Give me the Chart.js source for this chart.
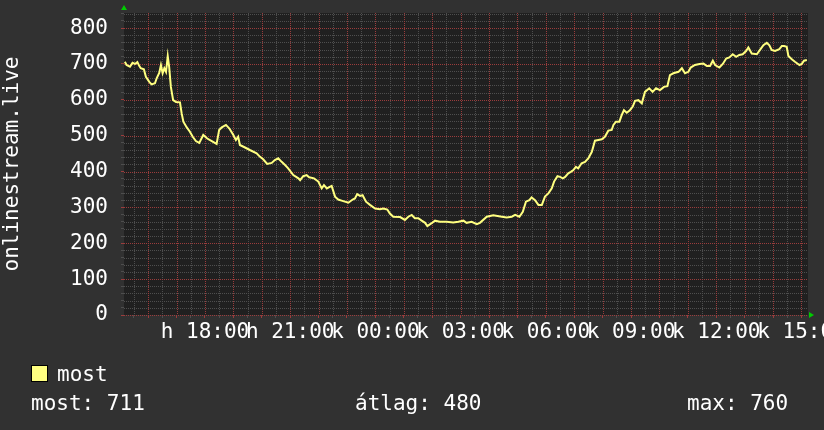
<!DOCTYPE html>
<html>
<head>
<meta charset="utf-8">
<script src="https://cdn.jsdelivr.net/npm/chart.js@4/dist/chart.umd.min.js"></script>
<style>
  html, body { margin: 0; padding: 0; background: #313131; }
  #wrap { width: 824px; height: 430px; position: relative; }
</style>
</head>
<body>
<div id="wrap"><canvas id="c" width="824" height="430"></canvas></div>
<script>
// ---- data (time in hours since midnight of day 1; values = viewers) ----
const times = [15.18, 15.24, 15.36, 15.45, 15.54, 15.62, 15.69, 15.74, 15.85, 15.92, 16.04, 16.12, 16.24, 16.30, 16.39, 16.45, 16.51, 16.57, 16.63, 16.69, 16.74, 16.80, 16.88, 16.98, 17.12, 17.18, 17.24, 17.36, 17.47, 17.57, 17.68, 17.80, 17.94, 18.08, 18.24, 18.41, 18.50, 18.59, 18.74, 18.86, 19.00, 19.09, 19.17, 19.23, 19.41, 19.58, 19.82, 19.94, 20.05, 20.19, 20.35, 20.46, 20.58, 20.70, 20.82, 20.93, 21.11, 21.29,
  21.35, 21.46, 21.58, 21.67, 21.84, 21.99, 22.11, 22.19, 22.29, 22.46, 22.58, 22.69, 22.81, 23.05, 23.20, 23.28, 23.36, 23.46, 23.55, 23.67, 23.81, 23.99, 24.16, 24.28, 24.42, 24.51, 24.63, 24.87, 25.04, 25.16, 25.28, 25.39, 25.51, 25.63, 25.75, 25.83, 25.98, 26.10, 26.27, 26.51, 26.74, 26.92, 27.10, 27.21, 27.39, 27.57, 27.68,
  27.92, 28.15, 28.45, 28.62, 28.80, 28.92, 29.07, 29.19, 29.30, 29.42, 29.50, 29.62, 29.74, 29.86, 29.97, 30.09, 30.21, 30.29, 30.41, 30.50, 30.60, 30.68, 30.79, 30.88, 30.97, 31.06, 31.14, 31.26, 31.38, 31.50, 31.62, 31.73, 31.85, 31.97, 32.08, 32.20, 32.32, 32.38, 32.47, 32.59, 32.67, 32.75, 32.85, 32.96, 33.06, 33.14, 33.26, 33.38,
  33.49, 33.64, 33.76, 33.88, 34.02, 34.16, 34.28, 34.37, 34.49, 34.67, 34.79, 34.90, 35.02, 35.10, 35.25, 35.41, 35.55, 35.67, 35.78, 35.88, 35.96, 36.11, 36.23, 36.35, 36.46, 36.58, 36.70, 36.81, 36.93, 37.05, 37.13, 37.25, 37.43, 37.54, 37.66, 37.78, 37.87, 37.95, 38.07, 38.22, 38.31, 38.39, 38.48, 38.54, 38.66, 38.77, 38.93, 39.01, 39.09, 39.19];
const most = [706, 697, 692, 703, 700, 705, 694, 688, 685, 664, 650, 643, 646, 660, 675, 697, 674, 688, 678, 722, 692, 636, 599, 594, 593, 562, 539, 523, 511, 497, 485, 480, 502, 492, 485, 477, 516, 523, 530, 520, 502, 488, 497, 474, 467, 460, 451, 441, 434, 421, 424, 432, 437, 427, 418, 409, 390, 381,
  376, 387, 390, 384, 381, 372, 353, 362, 353, 360, 330, 322, 319, 313, 322, 325, 337, 332, 334, 316, 307, 297, 295, 297, 294, 283, 274, 273, 265, 274, 279, 270, 270, 263, 257, 248, 256, 263, 260, 260, 258, 260, 263, 257, 260, 253, 257,
  274, 278, 274, 272, 274, 279, 274, 288, 316, 320, 328, 320, 307, 307, 330, 339, 353, 372, 387, 385, 381, 385, 395, 399, 404, 413, 409, 423, 427, 437, 455, 486, 488, 490, 497, 514, 516, 530, 539, 539, 557, 571, 564, 571, 581, 597, 599, 590,
  622, 632, 622, 632, 627, 636, 638, 669, 674, 678, 688, 674, 678, 690, 697, 700, 701, 694, 694, 709, 697, 690, 700, 715, 718, 727, 720, 725, 727, 736, 746, 729, 727, 739, 752, 759, 752, 739, 736, 741, 750, 750, 748, 722, 713, 706, 697, 700, 709, 711];

const xTickHours = [18, 21, 24, 27, 30, 33, 36, 39];
const xTickLabels = ['h 18:00', 'h 21:00', 'k 00:00', 'k 03:00', 'k 06:00', 'k 09:00', 'k 12:00', 'k 15:00'];
const yTickLabels = [0, 100, 200, 300, 400, 500, 600, 700, 800];
const legendName = 'most';
const statLabels = ['most: 711', 'átlag: 480', 'max: 760'];
const axisTitle = 'onlinestream.live';

// ---- styles ----
const FONT = 'DejaVu Sans Mono';
const FS = 21;
const GRID_MINOR = '#4e4e4e';
const GRID_MAJOR = '#9a3c3c';
const LINE = '#ffff80';

const xMin = 15.15, xMax = 39.23;
const yMax = 842;

const isMajorX = v => Math.abs(v - Math.round(v)) < 1e-6;
const isMajorY = v => Math.abs(v % 100) < 1e-6;

const xTicks = [];
for (let h = 15.5; h <= 39.01; h += 0.5) xTicks.push(h);
const yTicks = [];
for (let v = 0; v <= 840; v += 20) yTicks.push(v);

const bgPlugin = {
  id: 'bg',
  beforeDraw(chart) {
    const { ctx, chartArea: a } = chart;
    ctx.save();
    ctx.fillStyle = '#313131';
    ctx.fillRect(0, 0, chart.width, chart.height);
    ctx.fillStyle = '#202020';
    ctx.fillRect(a.left, a.top, a.right - a.left, a.bottom - a.top);
    ctx.restore();
  },
  beforeDatasetsDraw(chart) {
    const { ctx, chartArea: a, scales } = chart;
    ctx.save();
    ctx.lineWidth = 1;
    ctx.setLineDash([1, 1]);
    for (const major of [false, true]) {
      ctx.strokeStyle = major ? GRID_MAJOR : GRID_MINOR;
      for (const v of xTicks) {
        if (isMajorX(v) !== major) continue;
        const px = Math.round(scales.x.getPixelForValue(v)) + 0.5;
        ctx.beginPath();
        ctx.moveTo(px, Math.round(a.top));
        ctx.lineTo(px, Math.round(a.bottom));
        ctx.stroke();
      }
      for (const v of yTicks) {
        if (isMajorY(v) !== major) continue;
        const py = Math.round(scales.y.getPixelForValue(v)) + 0.5;
        ctx.beginPath();
        ctx.moveTo(Math.round(a.left), py);
        ctx.lineTo(Math.round(a.right), py);
        ctx.stroke();
      }
    }
    ctx.restore();
  },
  afterDraw(chart) {
    const { ctx, chartArea: a } = chart;
    ctx.save();
    // arrows
    ctx.fillStyle = '#00cc00';
    ctx.beginPath();
    ctx.moveTo(a.left - 3, a.top - 3);
    ctx.lineTo(a.left + 3, a.top - 3);
    ctx.lineTo(a.left, a.top - 8);
    ctx.closePath();
    ctx.fill();
    ctx.beginPath();
    ctx.moveTo(a.right + 1, a.bottom - 3);
    ctx.lineTo(a.right + 1, a.bottom + 3);
    ctx.lineTo(a.right + 6, a.bottom);
    ctx.closePath();
    ctx.fill();
    // legend
    ctx.fillStyle = LINE;
    ctx.fillRect(32, 366, 15, 15);
    ctx.strokeStyle = '#000000';
    ctx.lineWidth = 1;
    ctx.strokeRect(31.5, 365.5, 16, 16);
    ctx.fillStyle = '#ffffff';
    ctx.font = FS + 'px "' + FONT + '"';
    ctx.textBaseline = 'alphabetic';
    ctx.textAlign = 'left';
    ctx.fillText(legendName, 57, 381);
    ctx.fillText(statLabels[0], 31, 410);
    ctx.fillText(statLabels[1], 355, 410);
    ctx.fillText(statLabels[2], 687, 410);
    ctx.restore();
  }
};

new Chart(document.getElementById('c'), {
  type: 'line',
  data: {
    datasets: [{
      label: legendName,
      data: times.map((t, i) => ({ x: t, y: most[i] })),
      borderColor: LINE,
      borderWidth: 2,
      pointRadius: 0,
      tension: 0,
      fill: false
    }]
  },
  options: {
    responsive: false,
    animation: false,
    devicePixelRatio: 1,
    layout: { padding: { left: 0, top: 13, right: 16, bottom: 75 } },
    plugins: { legend: { display: false }, tooltip: { enabled: false }, title: { display: false } },
    scales: {
      x: {
        type: 'linear',
        min: xMin,
        max: xMax,
        afterBuildTicks(scale) { scale.ticks = xTicks.map(v => ({ value: v })); },
        afterFit(scale) { scale.height = 40; scale.paddingLeft = 0; scale.paddingRight = 0; },
        ticks: {
          autoSkip: false,
          maxRotation: 0,
          minRotation: 0,
          padding: 2,
          color: '#ffffff',
          font: { family: FONT, size: FS },
          callback(v) {
            const i = xTickHours.findIndex(h => Math.abs(h - v) < 1e-6);
            return i >= 0 ? xTickLabels[i] : '';
          }
        },
        grid: {
          drawOnChartArea: false,
          drawTicks: true,
          tickLength: 3,
          tickColor: ctx => (ctx.tick && isMajorX(ctx.tick.value) ? GRID_MAJOR : GRID_MINOR)
        },
        border: { display: false }
      },
      y: {
        min: 0,
        max: yMax,
        afterBuildTicks(scale) { scale.ticks = yTicks.map(v => ({ value: v })); },
        afterFit(scale) { scale.width = 124; scale.paddingTop = 0; scale.paddingBottom = 0; },
        ticks: {
          autoSkip: false,
          padding: 13,
          color: '#ffffff',
          font: { family: FONT, size: FS },
          callback(v) { return yTickLabels.includes(v) ? String(v) : ''; }
        },
        grid: {
          drawOnChartArea: false,
          drawTicks: true,
          tickLength: 3,
          tickColor: ctx => (ctx.tick && isMajorY(ctx.tick.value) ? GRID_MAJOR : GRID_MINOR)
        },
        border: { display: false },
        title: {
          display: true,
          text: axisTitle,
          color: '#ffffff',
          font: { family: FONT, size: FS },
          padding: { top: 0, bottom: 0 }
        }
      }
    }
  },
  plugins: [bgPlugin]
});
</script>
</body>
</html>
